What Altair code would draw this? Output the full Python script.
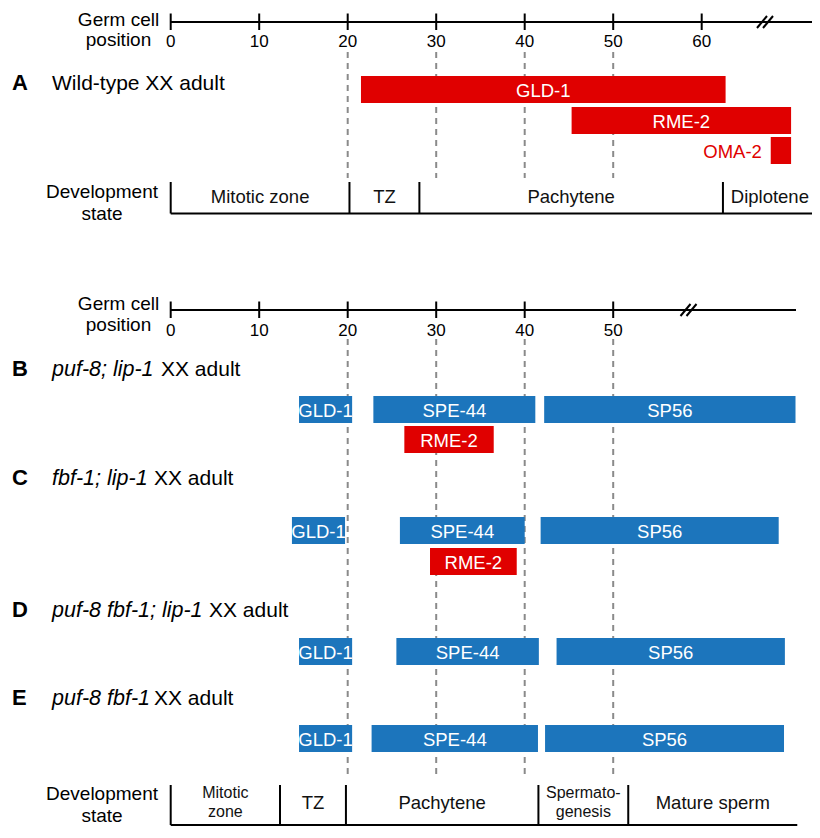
import altair as alt
import pandas as pd

# ---------------- data (germ cell positions) ----------------
a_proteins = ["GLD-1", "RME-2", "OMA-2"]
a_start = [21.5, 45.3, 67.8]
a_end = [62.7, 70.1, 70.1]
a_kind = ["oocyte", "oocyte", "oocyte"]

b_proteins = ["GLD-1", "SPE-44", "SP56", "RME-2"]
b_start = [14.5, 22.9, 42.2, 26.4]
b_end = [20.5, 41.2, 70.6, 36.5]
b_kind = ["sperm", "sperm", "sperm", "oocyte"]

c_proteins = ["GLD-1", "SPE-44", "SP56", "RME-2"]
c_start = [13.7, 25.9, 41.8, 29.3]
c_end = [19.7, 40.0, 68.7, 39.1]
c_kind = ["sperm", "sperm", "sperm", "oocyte"]

d_proteins = ["GLD-1", "SPE-44", "SP56"]
d_start = [14.5, 25.5, 43.6]
d_end = [20.5, 41.6, 69.4]
d_kind = ["sperm", "sperm", "sperm"]

e_proteins = ["GLD-1", "SPE-44", "SP56"]
e_start = [14.5, 22.7, 42.3]
e_end = [20.5, 41.5, 69.3]
e_kind = ["sperm", "sperm", "sperm"]

panel_letters = ["A", "B", "C", "D", "E"]
panel_italic = ["", "puf-8; lip-1", "fbf-1; lip-1", "puf-8 fbf-1; lip-1", "puf-8 fbf-1"]
panel_plain = ["Wild-type XX adult", "XX adult", "XX adult", "XX adult", "XX adult"]

top_ticks = [0, 10, 20, 30, 40, 50, 60]
bottom_ticks = [0, 10, 20, 30, 40, 50]
guide_positions = [20, 30, 40, 50]

a_stage_names = ["Mitotic zone", "TZ", "Pachytene", "Diplotene"]
a_stage_bounds = [0, 20.2, 28.1, 62.4, 73.0]
be_stage_names = ["Mitotic\nzone", "TZ", "Pachytene", "Spermato-\ngenesis", "Mature sperm"]
be_stage_bounds = [0, 12.35, 19.8, 41.55, 51.7, 70.8]

# ---------------- layout ----------------
PX0, PPU, PAGE = 170.7, 8.85, 8
W, H = 804, 818


def u(px):
    return (px - PX0) / PPU


def ym(ref):
    # reference pixel row -> page pixel row (the gap between A and B is shortened)
    return ref if ref < 260 else ref - 12


XMIN, XMAX = u(PAGE), u(PAGE + W)
RED, BLUE = "#e00000", "#1c75bc"
GRAY = "#8a8a8a"
SANS = "Liberation Sans, Arial, sans-serif"
LAB = 18.5

ROW_TOP = {"A": [76, 107, 137], "B": [408, 438], "C": [529, 560], "D": [650], "E": [737]}
ROW_OF = {"A": [0, 1, 2], "B": [0, 0, 0, 1], "C": [0, 0, 0, 1], "D": [0, 0, 0], "E": [0, 0, 0]}
BAR_H = 27
TITLE_BASE = [90, 388, 497, 629, 717]
PLAIN_X = [52, 161, 154, 209, 154]

xs = alt.Scale(domain=[XMIN, XMAX], nice=False, zero=False)
ys = alt.Scale(domain=[PAGE, PAGE + H], reverse=True, nice=False, zero=False)
cs = alt.Scale(domain=["oocyte", "sperm"], range=[RED, BLUE])


def X(f="x"):
    return alt.X(f"{f}:Q", scale=xs, axis=None)


def Y(f="y"):
    return alt.Y(f"{f}:Q", scale=ys, axis=None)


# bars
rows = []
for p, prots, st, en, kd in [
    ("A", a_proteins, a_start, a_end, a_kind),
    ("B", b_proteins, b_start, b_end, b_kind),
    ("C", c_proteins, c_start, c_end, c_kind),
    ("D", d_proteins, d_start, d_end, d_kind),
    ("E", e_proteins, e_start, e_end, e_kind),
]:
    for i, (name, s, e, k) in enumerate(zip(prots, st, en, kd)):
        top = ROW_TOP[p][ROW_OF[p][i]]
        rows.append(dict(panel=p, protein=name, x=s, x2=e, kind=k, y=ym(top), y2=ym(top + BAR_H),
                         mx=(s + e) / 2, my=ym(top + BAR_H / 2 + 1), lx=s - 1.0,
                         inside=(e - s) > 4))
bars = pd.DataFrame(rows)

bar_layer = alt.Chart(bars).mark_rect().encode(
    x=X(), x2="x2:Q", y=Y(), y2="y2:Q",
    color=alt.Color("kind:N", scale=cs, legend=None))
bar_text = alt.Chart(bars[bars.inside]).mark_text(
    font=SANS, fontSize=LAB, color="white", align="center", baseline="middle").encode(
    x=X("mx"), y=Y("my"), text="protein:N")
out_text = alt.Chart(bars[~bars.inside]).mark_text(
    font=SANS, fontSize=LAB, align="right", baseline="middle").encode(
    x=X("lx"), y=Y("my"), text="protein:N",
    color=alt.Color("kind:N", scale=cs, legend=None))

# axes
axis_lines = pd.DataFrame([dict(x=0, x2=XMAX, y=ym(22)), dict(x=0, x2=u(796), y=ym(322))])
axis_layer = alt.Chart(axis_lines).mark_rule(color="black", strokeWidth=2).encode(
    x=X(), x2="x2:Q", y=Y())
ticks = pd.DataFrame(
    [dict(x=t, y=ym(13.5), y2=ym(30), lab=str(t), ly=ym(42)) for t in top_ticks] +
    [dict(x=t, y=ym(313.5), y2=ym(330), lab=str(t), ly=ym(343)) for t in bottom_ticks])
tick_layer = alt.Chart(ticks).mark_rule(color="black", strokeWidth=2).encode(
    x=X(), y=Y(), y2="y2:Q")
tick_text = alt.Chart(ticks).mark_text(font=SANS, fontSize=17, baseline="middle").encode(
    x=X(), y=Y("ly"), text="lab:N")

# break marks
brk = []
for cx, cy in [(u(762), 22), (u(768), 22), (u(685.5), 322), (u(691.5), 322)]:
    brk.append(dict(x=cx - 5 / PPU, x2=cx + 5 / PPU, y=ym(cy) + 6, y2=ym(cy) - 6))
brk_layer = alt.Chart(pd.DataFrame(brk)).mark_rule(color="black", strokeWidth=2).encode(
    x=X(), x2="x2:Q", y=Y(), y2="y2:Q")

# dashed guides
guides = pd.DataFrame([dict(x=g, y=ym(52), y2=ym(178)) for g in guide_positions] +
                      [dict(x=g, y=ym(351), y2=ym(790)) for g in guide_positions])
guide_layer = alt.Chart(guides).mark_rule(color=GRAY, strokeWidth=2, strokeDash=[6, 5]).encode(
    x=X(), y=Y(), y2="y2:Q")

# development stage brackets
stage_v, stage_h, stage_lab = [], [], []
for names, bounds, ytop, ybot, ylab in [
    (a_stage_names, a_stage_bounds, 182, 213.5, 197),
    (be_stage_names, be_stage_bounds, 797, 837, 815),
]:
    for b in bounds[:-1]:
        stage_v.append(dict(x=b, y=ym(ytop), y2=ym(ybot)))
    stage_h.append(dict(x=0, x2=bounds[-1], y=ym(ybot)))
    for i, n in enumerate(names):
        cx = (bounds[i] + bounds[i + 1]) / 2
        parts = n.split("\n")
        if len(parts) == 1:
            stage_lab.append(dict(x=cx, y=ym(ylab), lab=n, fs=LAB))
        else:
            stage_lab.append(dict(x=cx, y=ym(ylab - 10), lab=parts[0], fs=16))
            stage_lab.append(dict(x=cx, y=ym(ylab + 9), lab=parts[1], fs=16))
sv_layer = alt.Chart(pd.DataFrame(stage_v)).mark_rule(color="black", strokeWidth=2).encode(
    x=X(), y=Y(), y2="y2:Q")
sh_layer = alt.Chart(pd.DataFrame(stage_h)).mark_rule(color="black", strokeWidth=2).encode(
    x=X(), x2="x2:Q", y=Y())
sl_layer = alt.Chart(pd.DataFrame(stage_lab)).mark_text(
    font=SANS, baseline="middle", align="center", color="#111").encode(
    x=X(), y=Y(), text="lab:N", size=alt.Size("fs:Q", scale=None, legend=None))

# side labels
side = pd.DataFrame([
    dict(x=u(118.5), y=ym(25.5), lab="Germ cell"), dict(x=u(118.5), y=ym(46), lab="position"),
    dict(x=u(118.5), y=ym(321.5), lab="Germ cell"), dict(x=u(118.5), y=ym(343), lab="position"),
    dict(x=u(102), y=ym(198), lab="Development"), dict(x=u(102), y=ym(219.5), lab="state"),
    dict(x=u(102), y=ym(812), lab="Development"), dict(x=u(102), y=ym(833.5), lab="state"),
])
side_layer = alt.Chart(side).mark_text(font=SANS, fontSize=19, align="center",
                                       baseline="alphabetic").encode(
    x=X(), y=Y(), text="lab:N")

# panel titles
titles = pd.DataFrame([dict(letter=l, ital=it, plain=pl, y=ym(yb), lx=u(12), ix=u(52), px=u(px))
                       for l, it, pl, yb, px in zip(panel_letters, panel_italic, panel_plain,
                                                    TITLE_BASE, PLAIN_X)])
t_letter = alt.Chart(titles).mark_text(font=SANS, fontSize=22, fontWeight="bold", align="left",
                                       baseline="alphabetic").encode(
    x=X("lx"), y=Y(), text="letter:N")
t_ital = alt.Chart(titles).mark_text(font=SANS, fontSize=21.5, fontStyle="italic", align="left",
                                     baseline="alphabetic").encode(
    x=X("ix"), y=Y(), text="ital:N")
t_plain = alt.Chart(titles).mark_text(font=SANS, fontSize=21, align="left",
                                      baseline="alphabetic").encode(
    x=X("px"), y=Y(), text="plain:N")

chart = alt.layer(
    guide_layer, axis_layer, tick_layer, tick_text, brk_layer,
    sv_layer, sh_layer, sl_layer, side_layer,
    bar_layer, bar_text, out_text,
    t_letter, t_ital, t_plain,
).properties(width=W, height=H, padding=0, autosize="none").configure_view(stroke=None)

chart.save("out.html", embed_options={"renderer": "svg", "actions": False})
